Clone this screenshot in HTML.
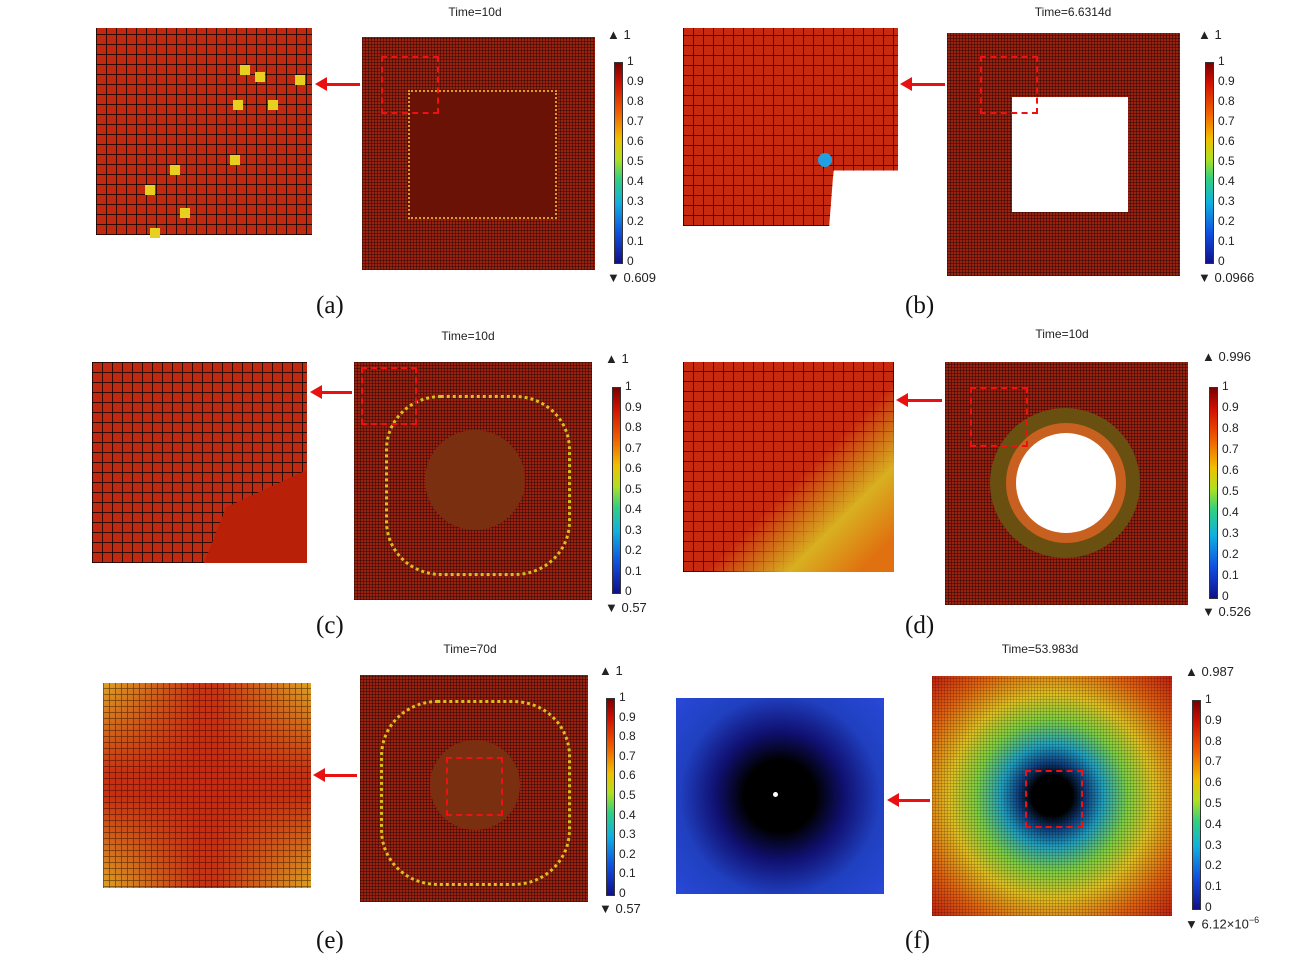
<!DOCTYPE html>
<html><head><meta charset="utf-8"><style>
body{margin:0;background:#fff;width:1306px;height:969px;position:relative;overflow:hidden;font-family:"Liberation Sans","DejaVu Sans",sans-serif;}
.a{position:absolute;}
.t{position:absolute;font-size:12px;color:#222;white-space:nowrap;}
.lab{position:absolute;font-family:"Liberation Serif",serif;font-size:25px;color:#111;}
.grid{background-image:repeating-linear-gradient(0deg,rgba(0,0,0,.75) 0 1px,transparent 1px 10px),repeating-linear-gradient(90deg,rgba(0,0,0,.75) 0 1px,transparent 1px 10px);}
.fine{background-image:repeating-linear-gradient(0deg,rgba(0,0,0,.35) 0 1px,transparent 1px 3px),repeating-linear-gradient(90deg,rgba(0,0,0,.35) 0 1px,transparent 1px 3px);}
.dash{position:absolute;border:2px dashed #f01010;}
.cb{position:absolute;background:linear-gradient(#7a0000,#d01000 10%,#f06000 25%,#f0c000 38%,#b0e020 48%,#30d080 58%,#10b0e0 70%,#1050e0 85%,#10108a);border:1px solid #333;}
</style></head><body>
<div id="root"></div>
<script>
const R=document.getElementById('root');
function el(cls,st,html){const d=document.createElement('div');d.className=cls;d.style.cssText=st;if(html!==undefined)d.innerHTML=html;R.appendChild(d);return d;}
function arrow(x1,x2,y){el('a',`left:${x2+8}px;top:${y-1}px;width:${x1-x2-8}px;height:3px;background:#e81010`);el('a',`left:${x2}px;top:${y-7}px;width:0;height:0;border-top:7px solid transparent;border-bottom:7px solid transparent;border-right:12px solid #e81010`);}
function cbar(x,y0,y1,top,bot,tx,ty,by){el('cb',`left:${x}px;top:${y0}px;width:7px;height:${y1-y0}px`);
for(let i=0;i<=10;i++){const v=(10-i)/10;el('t',`left:${x+13}px;top:${y0+(y1-y0)*i/10-8}px`,v==1?'1':v==0?'0':v.toFixed(1));}
el('t',`left:${tx}px;top:${ty}px;font-size:13px`,'▲ '+top);el('t',`left:${tx}px;top:${by}px;font-size:13px`,'▼ '+bot);}
function T(cx,y,s){el('t',`left:${cx-60}px;top:${y}px;width:120px;text-align:center`,s);}
const MAIN='#9a2010';
// (a)
el('a grid',`left:96px;top:28px;width:216px;height:207px;background-color:#c02810`);
[[240,65],[255,72],[295,75],[233,100],[268,100],[170,165],[145,185],[180,208],[230,155],[150,228]].forEach(p=>el('a',`left:${p[0]}px;top:${p[1]}px;width:10px;height:10px;background:#e8d020`));
arrow(360,315,84);
el('a fine',`left:362px;top:37px;width:233px;height:233px;background-color:${MAIN}`);
el('a',`left:408px;top:90px;width:145px;height:125px;background:#6a1206;border:2px dotted #d8a020`);
el('dash',`left:381px;top:56px;width:54px;height:54px`);
T(475,5,'Time=10d');cbar(614,62,262,'1','0.609',607,27,270);
el('lab','left:316px;top:292px','(a)');
// (b)
el('a grid',`left:683px;top:28px;width:215px;height:198px;background-color:#c82a10;clip-path:polygon(0 0,100% 0,100% 72%,70% 72%,68% 100%,0 100%)`);
el('a',`left:818px;top:153px;width:14px;height:14px;border-radius:50%;background:#20a0e0`);
arrow(945,900,84);
el('a fine',`left:947px;top:33px;width:233px;height:243px;background-color:${MAIN}`);
el('a',`left:1012px;top:97px;width:116px;height:115px;background:#fff`);
el('dash',`left:980px;top:56px;width:54px;height:54px`);
T(1073,5,'Time=6.6314d');cbar(1205,62,262,'1','0.0966',1198,27,270);
el('lab','left:905px;top:292px','(b)');
// (c)
el('a grid',`left:92px;top:362px;width:215px;height:201px;background-color:#c02810`);
el('a',`left:160px;top:470px;width:147px;height:93px;background:#b82008;clip-path:polygon(30% 100%,45% 40%,100% 0,100% 100%)`);
arrow(352,310,392);
el('a fine',`left:354px;top:362px;width:238px;height:238px;background-color:${MAIN}`);
el('a',`left:385px;top:395px;width:180px;height:175px;border:3px dotted #d8c020;border-radius:30%`);
el('a',`left:425px;top:430px;width:100px;height:100px;border-radius:50%;background:#7a3010`);
el('dash',`left:361px;top:367px;width:52px;height:54px`);
T(468,329,'Time=10d');cbar(612,387,592,'1','0.57',605,351,600);
el('lab','left:316px;top:612px','(c)');
// (d)
el('a grid',`left:683px;top:362px;width:211px;height:210px;background-color:#c82a10`);
el('a',`left:683px;top:362px;width:211px;height:210px;background:linear-gradient(135deg,transparent 55%,#d8b020 75%,#e07010 92%)`);
arrow(942,896,400);
el('a fine',`left:945px;top:362px;width:243px;height:243px;background-color:${MAIN}`);
el('a',`left:990px;top:408px;width:150px;height:150px;border-radius:50%;background:#6a5010`);
el('a',`left:1006px;top:423px;width:120px;height:120px;border-radius:50%;background:#c86020`);
el('a',`left:1016px;top:433px;width:100px;height:100px;border-radius:50%;background:#fff`);
el('dash',`left:970px;top:387px;width:54px;height:56px`);
T(1062,327,'Time=10d');cbar(1209,387,597,'0.996','0.526',1202,349,604);
el('lab','left:905px;top:612px','(d)');
// (e)
el('a',`left:103px;top:683px;width:208px;height:205px;background:linear-gradient(90deg,rgba(200,40,16,0) 0,rgba(200,40,16,.9) 45%,rgba(200,40,16,.9) 55%,rgba(200,40,16,0) 100%),linear-gradient(0deg,#e0a020 0,#c83010 45%,#c83010 55%,#e0a020 100%)`);
el('a grid',`left:103px;top:683px;width:208px;height:205px;background-size:6px 6px;opacity:.5`);
arrow(357,313,775);
el('a fine',`left:360px;top:675px;width:228px;height:227px;background-color:${MAIN}`);
el('a',`left:380px;top:700px;width:185px;height:180px;border:3px dotted #d8c020;border-radius:30%`);
el('a',`left:430px;top:740px;width:90px;height:90px;border-radius:50%;background:#7a3010`);
el('dash',`left:446px;top:757px;width:53px;height:55px`);
T(470,642,'Time=70d');cbar(606,698,894,'1','0.57',599,663,901);
el('lab','left:316px;top:927px','(e)');
// (f)
el('a',`left:676px;top:698px;width:208px;height:196px;background:radial-gradient(circle at 50% 50%,#000 25%,#101070 45%,#2040c0 70%,#2848d8)`);
el('a',`left:773px;top:792px;width:5px;height:5px;border-radius:50%;background:#fff`);
arrow(930,887,800);
el('a',`left:932px;top:676px;width:240px;height:240px;background:radial-gradient(circle at 50% 50%,#000 12%,#104080 20%,#20a0c0 30%,#80d040 45%,#e0c020 60%,#e06010 80%,#c02010)`);
el('a fine',`left:932px;top:676px;width:240px;height:240px;opacity:.5`);
el('dash',`left:1025px;top:770px;width:54px;height:54px`);
T(1040,642,'Time=53.983d');cbar(1192,700,908,'0.987','6.12×10<sup style="font-size:9px">−6</sup>',1185,664,915);
el('lab','left:905px;top:927px','(f)');
</script>
</body></html>
